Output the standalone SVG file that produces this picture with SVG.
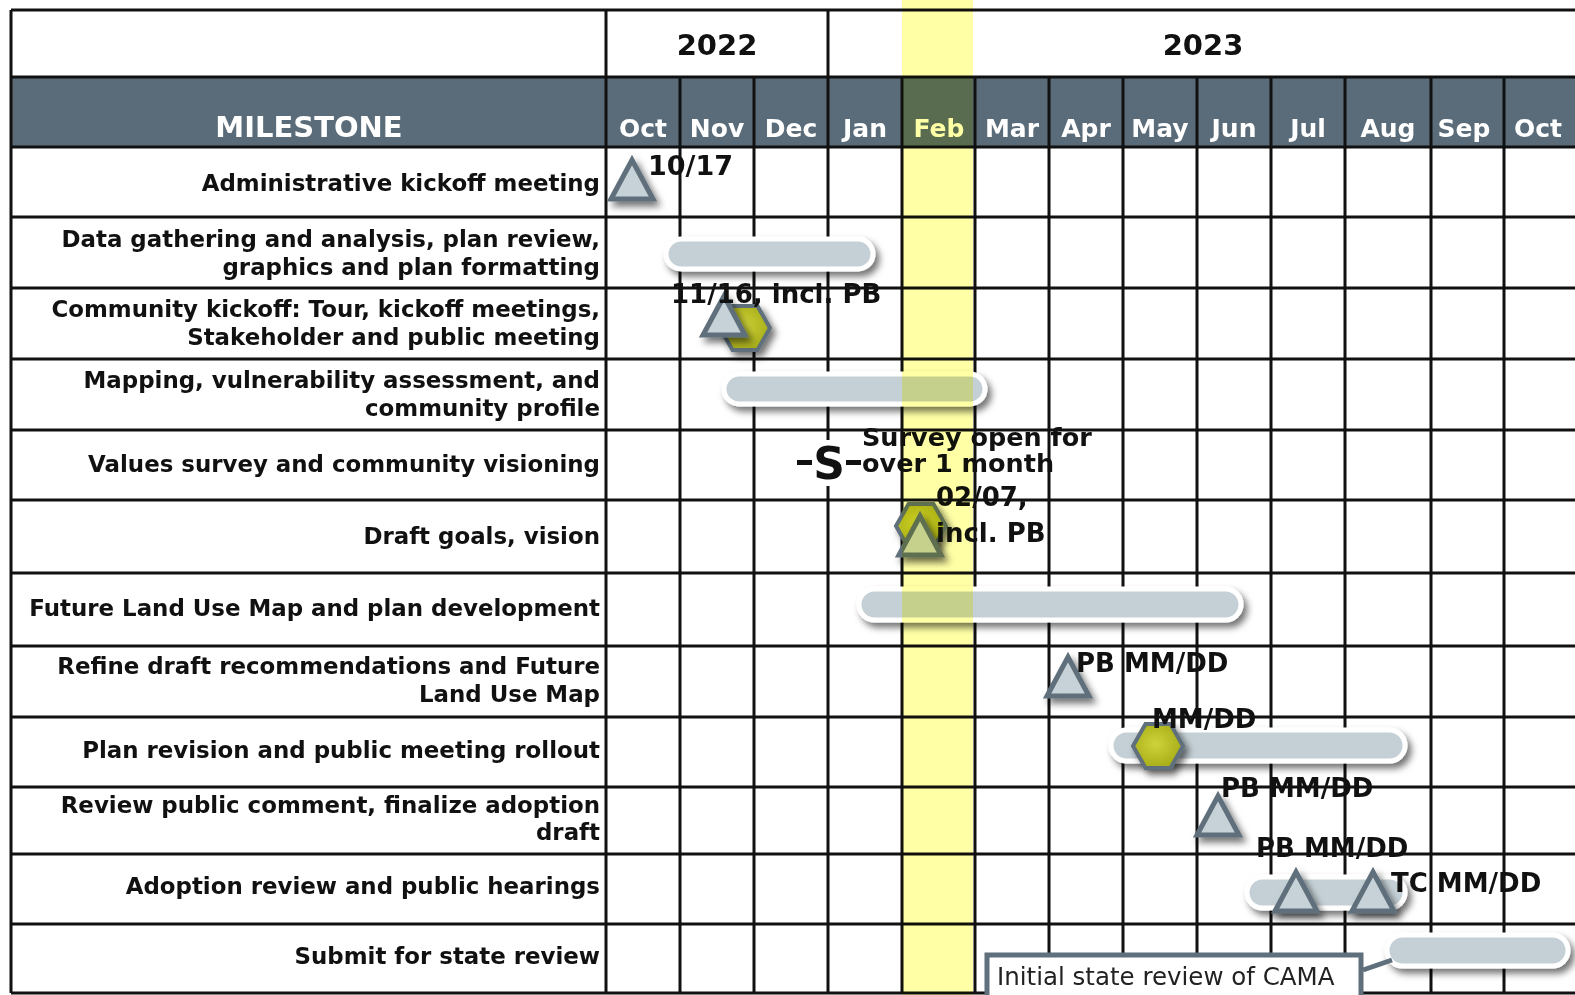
<svg xmlns="http://www.w3.org/2000/svg" xmlns:xlink="http://www.w3.org/1999/xlink" width="1575" height="995" viewBox="0 0 1575 995">
<style>
.lbl{font-family:"DejaVu Sans",Verdana,sans-serif;font-weight:bold;font-size:22.9px;fill:#111;text-anchor:end}
.mon{font-family:"DejaVu Sans",Verdana,sans-serif;font-weight:bold;font-size:25px;fill:#fff;text-anchor:middle}
.yr{font-family:"DejaVu Sans",Verdana,sans-serif;font-weight:bold;font-size:29px;fill:#111;text-anchor:middle}
.ann{font-family:"DejaVu Sans",Verdana,sans-serif;font-weight:bold;font-size:26px;fill:#111}
.call{font-family:"DejaVu Sans",Verdana,sans-serif;font-size:24.5px;fill:#222}
.grid{stroke:#111;stroke-width:3;fill:none}
.bar{fill:#c4d0d5;stroke:#fff;stroke-width:5;filter:url(#sh)}
.tri{fill:#c6d2d7;stroke:#5f6f7b;stroke-width:5;filter:url(#sh)}
.hex{fill:url(#hg);stroke:#5f6f7b;stroke-width:4;filter:url(#sh)}
</style>
<defs>
<filter id="sh" x="-30%" y="-40%" width="170%" height="200%">
<feDropShadow dx="4" dy="5" stdDeviation="3.5" flood-color="#000" flood-opacity="0.55"/>
</filter>
<radialGradient id="hg" cx="0.45" cy="0.45" r="0.6">
<stop offset="0" stop-color="#cfd23a"/>
<stop offset="1" stop-color="#a4ab16"/>
</radialGradient>
<path id="tr" d="M0,-20 L21,19 L-21,19 Z"/>
<path id="hx" d="M-25,0 L-12.5,-22 L12.5,-22 L25,0 L12.5,22 L-12.5,22 Z"/>
</defs>
<rect width="1575" height="995" fill="#fff"/>
<g id="header">
<rect x="11" y="77" width="1564" height="70" fill="#5a6c79"/>
<text class="yr" x="717" y="55">2022</text>
<text class="yr" x="1203" y="55">2023</text>
<text class="mon" x="309" y="137" style="font-size:29px">MILESTONE</text>
<text class="mon" x="643" y="137">Oct</text>
<text class="mon" x="717" y="137">Nov</text>
<text class="mon" x="791" y="137">Dec</text>
<text class="mon" x="865" y="137">Jan</text>
<text class="mon" x="939" y="137">Feb</text>
<text class="mon" x="1012" y="137">Mar</text>
<text class="mon" x="1086" y="137">Apr</text>
<text class="mon" x="1160" y="137">May</text>
<text class="mon" x="1234" y="137">Jun</text>
<text class="mon" x="1308" y="137">Jul</text>
<text class="mon" x="1388" y="137">Aug</text>
<text class="mon" x="1464" y="137">Sep</text>
<text class="mon" x="1538" y="137">Oct</text>
</g>
<g id="gridlines" class="grid">
<path d="M11,10H1575M11,77H1575M11,147H1575M11,217H1575M11,288H1575M11,359H1575M11,430H1575M11,500H1575M11,573H1575M11,646H1575M11,717H1575M11,787H1575M11,854H1575M11,924H1575M11,993H1575"/>
<path d="M11,10V993M606,10V993M828,10V440M828,486V993"/>
<path d="M680,77V993M754,77V993M902,77V993M975,77V993M1049,77V993M1123,77V993M1197,77V993M1271,77V993M1345,77V993M1431,77V993M1504,77V993"/>
</g>
<g id="row-admin-kickoff">
<text class="lbl" x="600" y="191">Administrative kickoff meeting</text>
<use href="#tr" class="tri" x="632" y="180"/>
<text class="ann" x="648" y="175" style="font-size:27px">10/17</text>
</g>
<g id="row-data-gathering">
<text class="lbl" x="600" y="247">Data gathering and analysis, plan review,</text>
<text class="lbl" x="600" y="275">graphics and plan formatting</text>
<rect class="bar" x="666" y="239" width="207" height="30" rx="15"/>
</g>
<g id="row-community-kickoff">
<text class="lbl" x="600" y="317">Community kickoff: Tour, kickoff meetings,</text>
<text class="lbl" x="600" y="345">Stakeholder and public meeting</text>
<use href="#hx" class="hex" x="745" y="328"/>
<use href="#tr" class="tri" x="724" y="316"/>
<text class="ann" x="671" y="303">11/16, incl. PB</text>
</g>
<g id="row-mapping">
<text class="lbl" x="600" y="388">Mapping, vulnerability assessment, and</text>
<text class="lbl" x="600" y="416">community profile</text>
<rect class="bar" x="724" y="374" width="261" height="30" rx="15"/>
</g>
<g id="row-values-survey">
<text class="lbl" x="600" y="472">Values survey and community visioning</text>
<rect x="812" y="440" width="34" height="46" fill="#fff"/>
<rect x="797" y="460" width="15" height="5" fill="#111"/>
<rect x="846" y="460" width="15" height="5" fill="#111"/>
<text x="829" y="479" style="font-family:'DejaVu Sans',Verdana,sans-serif;font-weight:bold;font-size:44px;fill:#111;text-anchor:middle">S</text>
<text class="ann" x="862" y="446" style="font-size:25.5px">Survey open for</text>
<text class="ann" x="862" y="472" style="font-size:25.5px">over 1 month</text>
</g>
<g id="row-draft-goals">
<text class="lbl" x="600" y="544">Draft goals, vision</text>
<use href="#hx" class="hex" x="921" y="526"/>
<use href="#tr" class="tri" x="920" y="536"/>
<text class="ann" x="936" y="506">02/07,</text>
<text class="ann" x="936" y="542">incl. PB</text>
</g>
<g id="row-future-land-use">
<text class="lbl" x="600" y="616">Future Land Use Map and plan development</text>
<rect class="bar" x="859" y="589" width="382" height="31" rx="15.5"/>
</g>
<g id="row-refine">
<text class="lbl" x="600" y="674">Refine draft recommendations and Future</text>
<text class="lbl" x="600" y="702">Land Use Map</text>
<use href="#tr" class="tri" x="1068" y="677"/>
<text class="ann" x="1076" y="672">PB MM/DD</text>
</g>
<g id="row-plan-revision">
<text class="lbl" x="600" y="758">Plan revision and public meeting rollout</text>
<rect class="bar" x="1111" y="730" width="294" height="31" rx="15.5"/>
<use href="#hx" class="hex" x="1158" y="746"/>
<text class="ann" x="1152" y="728">MM/DD</text>
</g>
<g id="row-review-comment">
<text class="lbl" x="600" y="813">Review public comment, finalize adoption</text>
<text class="lbl" x="600" y="840">draft</text>
<use href="#tr" class="tri" x="1218" y="816"/>
<text class="ann" x="1221" y="797">PB MM/DD</text>
</g>
<g id="row-adoption">
<text class="lbl" x="600" y="894">Adoption review and public hearings</text>
<rect class="bar" x="1247" y="877" width="158" height="31" rx="15.5"/>
<use href="#tr" class="tri" x="1296" y="892"/>
<use href="#tr" class="tri" x="1373" y="892"/>
<text class="ann" x="1256" y="857">PB MM/DD</text>
<text class="ann" x="1391" y="892">TC MM/DD</text>
</g>
<g id="row-submit">
<text class="lbl" x="600" y="964">Submit for state review</text>
<rect class="bar" x="1387" y="935" width="181" height="31" rx="15.5"/>
</g>
<g id="connectors">
<path d="M1363,970 L1392,960" stroke="#5f6f7b" stroke-width="5" fill="none"/>
</g>
<g id="callout-cama">
<rect x="987" y="955" width="374" height="50" fill="#fff" stroke="#5f6f7b" stroke-width="5"/>
<text class="call" x="997" y="985">Initial state review of CAMA</text>
</g>
<rect id="feb-highlight" x="902" y="0" width="71" height="995" fill="#ffffa6" style="mix-blend-mode:multiply"/>
</svg>
